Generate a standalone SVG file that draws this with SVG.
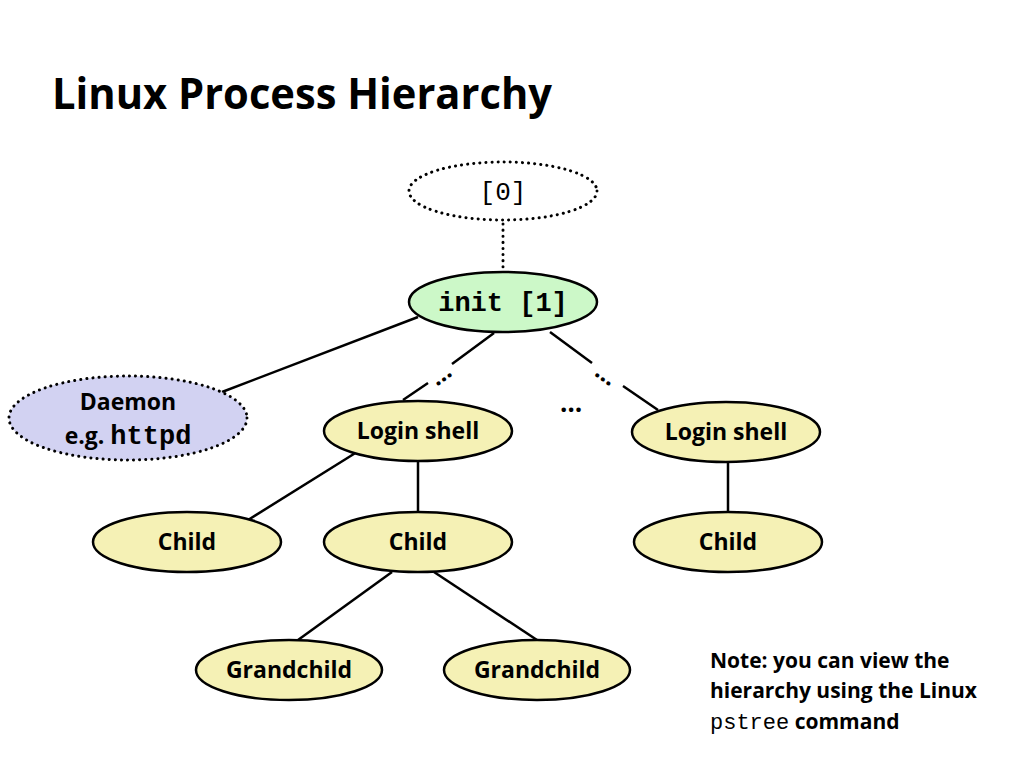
<svg xmlns="http://www.w3.org/2000/svg" width="1024" height="768" viewBox="0 0 1024 768">
<style>
.sans{font-family:"Open Sans","Liberation Sans",sans-serif;font-weight:bold;fill:#000}
.mono{font-family:"Liberation Mono","DejaVu Sans Mono",monospace;fill:#000}
.node{stroke:#000;stroke-width:2.5}
.dot{stroke:#000;stroke-width:3;stroke-dasharray:0.1 6;stroke-linecap:round}
.yel{fill:#f5f1b5}
.edge{stroke:#000;stroke-width:2.5;fill:none}
.lbl{font-size:23px}
</style>
<rect width="1024" height="768" fill="#fff"/>
<text x="52" y="109" class="sans" font-size="43" textLength="500" lengthAdjust="spacingAndGlyphs">Linux Process Hierarchy</text>
<g id="connectors">
<line class="dot" x1="503" y1="224" x2="503" y2="270"/>
<line class="edge" x1="418" y1="317" x2="222" y2="392"/>
<line class="edge" x1="494" y1="333" x2="452" y2="364"/>
<line class="edge" x1="428" y1="383" x2="403" y2="400"/>
<text x="441" y="382" class="sans" font-size="24" text-anchor="middle" transform="rotate(-36 441 375)">…</text>
<line class="edge" x1="550" y1="332" x2="592" y2="363"/>
<line class="edge" x1="623" y1="386" x2="658" y2="410"/>
<text x="606" y="382" class="sans" font-size="24" text-anchor="middle" transform="rotate(36 606 375)">…</text>
<text x="571" y="412" class="sans" font-size="26" text-anchor="middle">…</text>
<line class="edge" x1="357" y1="452" x2="248" y2="520"/>
<line class="edge" x1="418" y1="461" x2="418" y2="512"/>
<line class="edge" x1="728" y1="462" x2="728" y2="512"/>
<line class="edge" x1="392" y1="572" x2="298" y2="640"/>
<line class="edge" x1="434" y1="572" x2="537" y2="640"/>
</g>
<g id="n0">
<ellipse cx="503" cy="191" rx="94" ry="29" fill="#fff" class="dot"/>
<text x="503" y="200" class="mono" font-size="26" text-anchor="middle">[0]</text>
</g>
<g id="init">
<ellipse cx="503" cy="302" rx="94" ry="30" fill="#ccf8c8" class="node"/>
<text x="503" y="311" class="mono" font-size="27" font-weight="bold" text-anchor="middle">init [1]</text>
</g>
<g id="daemon">
<ellipse cx="128" cy="418" rx="119" ry="42" fill="#d2d2f2" class="dot"/>
<text x="128" y="410" class="sans lbl" text-anchor="middle">Daemon</text>
<text x="128" y="444" text-anchor="middle"><tspan class="sans lbl">e.g. </tspan><tspan class="mono" font-size="27" font-weight="bold">httpd</tspan></text>
</g>
<g id="login1">
<ellipse cx="418" cy="431" rx="94" ry="30" class="node yel"/>
<text x="418" y="439" class="sans lbl" text-anchor="middle">Login shell</text>
</g>
<g id="login2">
<ellipse cx="726" cy="432" rx="94" ry="30" class="node yel"/>
<text x="726" y="440" class="sans lbl" text-anchor="middle">Login shell</text>
</g>
<g id="child1">
<ellipse cx="187" cy="542" rx="94" ry="30" class="node yel"/>
<text x="187" y="550" class="sans lbl" text-anchor="middle">Child</text>
</g>
<g id="child2">
<ellipse cx="418" cy="542" rx="94" ry="30" class="node yel"/>
<text x="418" y="550" class="sans lbl" text-anchor="middle">Child</text>
</g>
<g id="child3">
<ellipse cx="728" cy="542" rx="94" ry="30" class="node yel"/>
<text x="728" y="550" class="sans lbl" text-anchor="middle">Child</text>
</g>
<g id="grand1">
<ellipse cx="289" cy="670" rx="93" ry="30" class="node yel"/>
<text x="289" y="678" class="sans lbl" text-anchor="middle">Grandchild</text>
</g>
<g id="grand2">
<ellipse cx="537" cy="670" rx="93" ry="30" class="node yel"/>
<text x="537" y="678" class="sans lbl" text-anchor="middle">Grandchild</text>
</g>
<g id="note">
<text x="710" y="668" class="sans" font-size="21">Note: you can view the</text>
<text x="710" y="698" class="sans" font-size="21">hierarchy using the Linux</text>
<text x="710" y="729"><tspan class="mono" font-size="22">pstree</tspan><tspan class="sans" font-size="21"> command</tspan></text>
</g>
</svg>
